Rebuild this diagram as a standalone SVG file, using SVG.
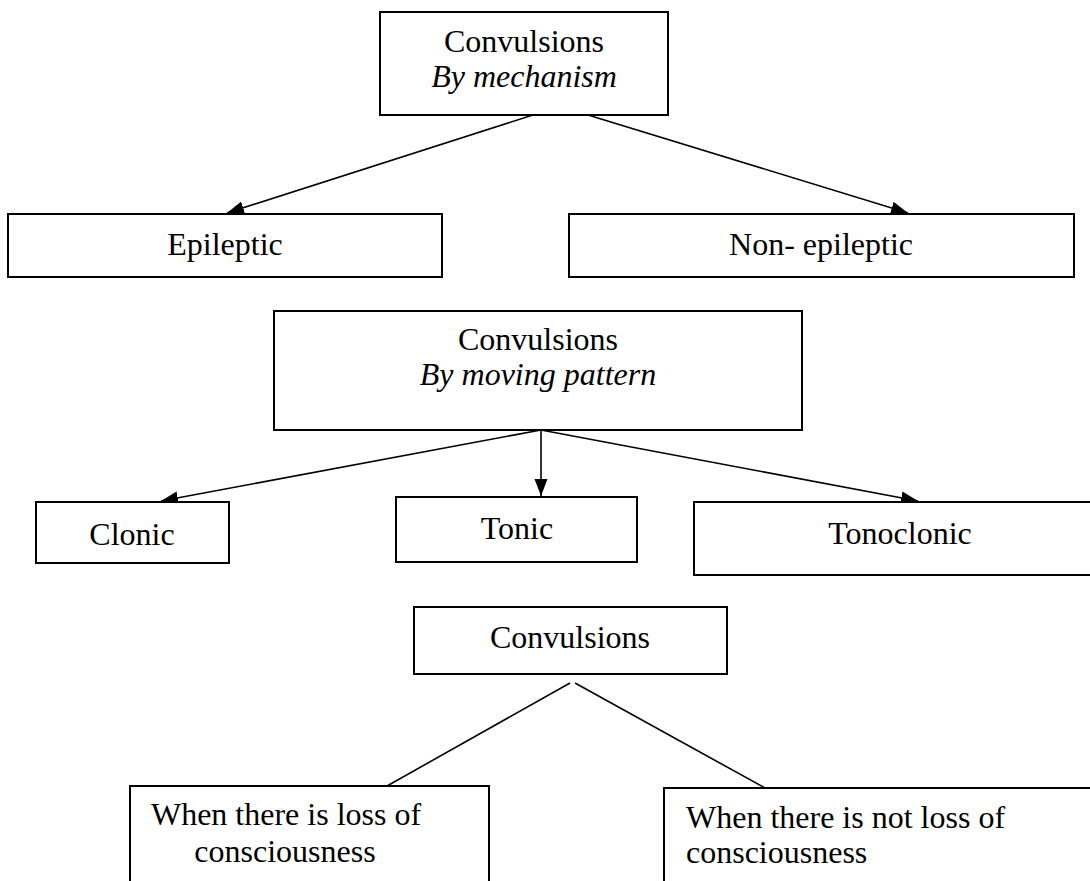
<svg xmlns="http://www.w3.org/2000/svg" width="1090" height="881" viewBox="0 0 1090 881">
<style>
.box{fill:#fff;stroke:#000;stroke-width:2}
.t{font-family:"Liberation Serif","Times New Roman",serif;font-size:32px;fill:#000}
.c{text-anchor:middle}
.i{font-style:italic}
.ln{stroke:#000;stroke-width:1.6;fill:none}
</style>
<defs>
<marker id="ah" markerUnits="userSpaceOnUse" markerWidth="18" markerHeight="14" refX="17" refY="6.5" orient="auto">
<path d="M0,0 L17,6.5 L0,13 z" fill="#000"/>
</marker>
</defs>
<rect width="1090" height="881" fill="#fff"/>
<g id="connectors">
<line class="ln" x1="533" y1="115" x2="227" y2="213" marker-end="url(#ah)"/>
<line class="ln" x1="588" y1="115" x2="908" y2="213" marker-end="url(#ah)"/>
<line class="ln" x1="541" y1="430" x2="161" y2="501" marker-end="url(#ah)"/>
<line class="ln" x1="541" y1="430" x2="541" y2="496" marker-end="url(#ah)"/>
<line class="ln" x1="541" y1="430" x2="918" y2="501" marker-end="url(#ah)"/>
<line class="ln" x1="570" y1="683" x2="387" y2="786"/>
<line class="ln" x1="575" y1="683" x2="765" y2="788"/>
</g>
<g id="n1">
<rect class="box" x="380" y="12" width="288" height="103"/>
<text class="t c" x="524" y="52">Convulsions</text>
<text class="t c i" x="524" y="87">By mechanism</text>
</g>
<g id="n2">
<rect class="box" x="8" y="214" width="434" height="63"/>
<text class="t c" x="225" y="255">Epileptic</text>
</g>
<g id="n3">
<rect class="box" x="569" y="214" width="505" height="63"/>
<text class="t c" x="821" y="255">Non- epileptic</text>
</g>
<g id="n4">
<rect class="box" x="274" y="311" width="528" height="119"/>
<text class="t c" x="538" y="350">Convulsions</text>
<text class="t c i" x="538" y="385">By moving pattern</text>
</g>
<g id="n5">
<rect class="box" x="36" y="502" width="193" height="61"/>
<text class="t c" x="132" y="545">Clonic</text>
</g>
<g id="n6">
<rect class="box" x="396" y="497" width="241" height="65"/>
<text class="t c" x="517" y="539">Tonic</text>
</g>
<g id="n7">
<rect class="box" x="694" y="502" width="410" height="73"/>
<text class="t c" x="900" y="544">Tonoclonic</text>
</g>
<g id="n8">
<rect class="box" x="414" y="607" width="313" height="67"/>
<text class="t c" x="570" y="648">Convulsions</text>
</g>
<g id="n9">
<rect class="box" x="130" y="786" width="359" height="110"/>
<text class="t c" x="286" y="825">When there is loss of</text>
<text class="t c" x="285" y="862">consciousness</text>
</g>
<g id="n10">
<rect class="box" x="664" y="788" width="440" height="110"/>
<text class="t" x="686" y="828">When there is not loss of</text>
<text class="t" x="686" y="863">consciousness</text>
</g>
</svg>
